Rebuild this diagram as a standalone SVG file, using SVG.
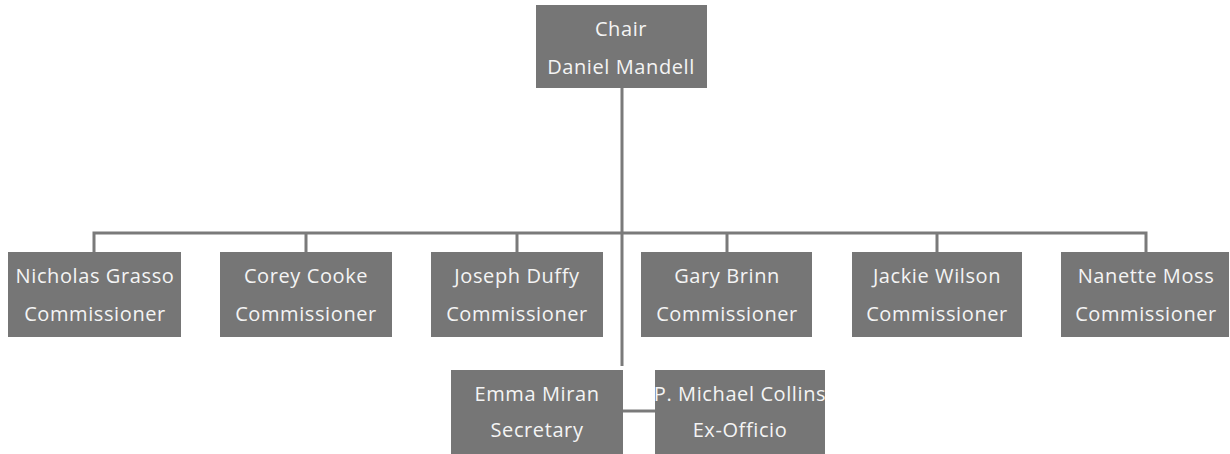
<svg xmlns="http://www.w3.org/2000/svg" width="1230" height="454" viewBox="0 0 1230 454">
<style>
.box{fill:#767676;}
.t{font-family:"Open Sans","Liberation Sans",sans-serif;font-size:20px;letter-spacing:0.6px;fill:#f4f4f4;text-anchor:middle;}
.c{stroke:#7a7a7a;stroke-width:3;fill:none;}
</style>
<rect width="1230" height="454" fill="#ffffff"/>
<g id="connectors">
<path class="c" d="M622 88 V366"/>
<path class="c" d="M94 252 V233 H1146 V252"/>
<path class="c" d="M306 233 V252 M517 233 V252 M727 233 V252 M937 233 V252"/>
<path class="c" d="M623 411 H655"/>
</g>
<g id="chair"><rect class="box" x="536" y="5" width="171" height="83"/><text class="t" x="621" y="36">Chair</text><text class="t" x="621" y="74">Daniel Mandell</text></g>
<g id="grasso"><rect class="box" x="8" y="252" width="173" height="85"/><text class="t" x="95" y="283">Nicholas Grasso</text><text class="t" x="95" y="321">Commissioner</text></g>
<g id="cooke"><rect class="box" x="220" y="252" width="172" height="85"/><text class="t" x="306" y="283">Corey Cooke</text><text class="t" x="306" y="321">Commissioner</text></g>
<g id="duffy"><rect class="box" x="431" y="252" width="172" height="85"/><text class="t" x="517" y="283">Joseph Duffy</text><text class="t" x="517" y="321">Commissioner</text></g>
<g id="brinn"><rect class="box" x="641" y="252" width="171" height="85"/><text class="t" x="727" y="283">Gary Brinn</text><text class="t" x="727" y="321">Commissioner</text></g>
<g id="wilson"><rect class="box" x="852" y="252" width="170" height="85"/><text class="t" x="937" y="283">Jackie Wilson</text><text class="t" x="937" y="321">Commissioner</text></g>
<g id="moss"><rect class="box" x="1061" y="252" width="168" height="85"/><text class="t" x="1146" y="283">Nanette Moss</text><text class="t" x="1146" y="321">Commissioner</text></g>
<g id="miran"><rect class="box" x="451" y="370" width="172" height="84"/><text class="t" x="537" y="401">Emma Miran</text><text class="t" x="537" y="437">Secretary</text></g>
<g id="collins"><rect class="box" x="655" y="370" width="170" height="84"/><text class="t" x="740" y="401">P. Michael Collins</text><text class="t" x="740" y="437">Ex-Officio</text></g>
</svg>
